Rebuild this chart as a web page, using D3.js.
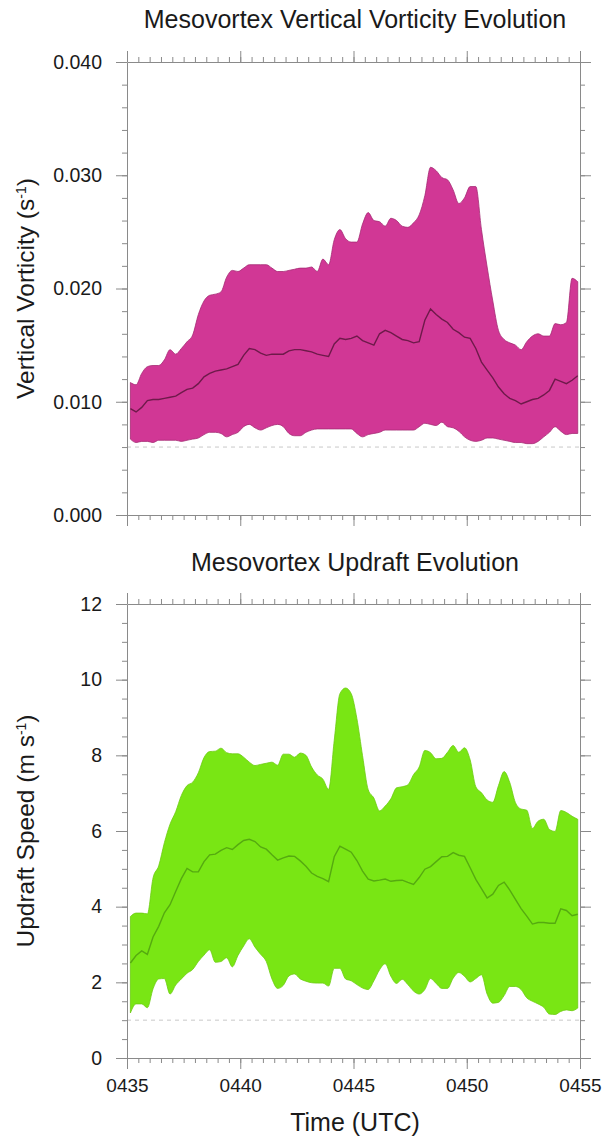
<!DOCTYPE html>
<html>
<head>
<meta charset="utf-8">
<script src="https://cdn.jsdelivr.net/npm/d3@7"></script>
<style>
  body { margin: 0; background: #fff; }
  text { font-family: "Liberation Sans", Arial, Helvetica, sans-serif; fill: #1a1a1a; }
</style>
</head>
<body>
<svg width="603" height="1139"></svg>
<script>
// sample times, minutes after 0435 UTC (15 s output)
var minutes = d3.range(80).map(function(i) { return 0.15 + 0.25 * i })
var xTicks = [0, 5, 10, 15, 20]
var xTickLabels = ["0435", "0440", "0445", "0450", "0455"]

// vertical vorticity (s-1): max, mean, min of the mesovortex
var vortMax = [0.0117, 0.0115, 0.0125, 0.0131, 0.0132, 0.0132, 0.0137, 0.0146, 0.0142, 0.0147,
  0.0153, 0.0159, 0.0177, 0.0189, 0.0194, 0.0195, 0.0197, 0.0210, 0.0216, 0.0215,
  0.0218, 0.0221, 0.0221, 0.0221, 0.0221, 0.0218, 0.0215, 0.0215, 0.0216, 0.0217,
  0.0218, 0.0218, 0.0219, 0.0215, 0.0226, 0.0221, 0.0243, 0.0252, 0.0244, 0.0241,
  0.0241, 0.0257, 0.0267, 0.0260, 0.0259, 0.0255, 0.0262, 0.0260, 0.0255, 0.0254,
  0.0258, 0.0265, 0.0282, 0.0307, 0.0304, 0.0298, 0.0296, 0.0287, 0.0275, 0.0280,
  0.0290, 0.0290, 0.0252, 0.0219, 0.0189, 0.0163, 0.0155, 0.0152, 0.0150, 0.0146,
  0.0153, 0.0158, 0.0160, 0.0158, 0.0158, 0.0169, 0.0168, 0.0170, 0.0209, 0.0206]
var vortMean = [0.0094, 0.0091, 0.0095, 0.0101, 0.0102, 0.0102, 0.0103, 0.0104, 0.0105, 0.0108,
  0.0111, 0.0112, 0.0116, 0.0122, 0.0125, 0.0127, 0.0128, 0.0129, 0.0131, 0.0133,
  0.0141, 0.0147, 0.0146, 0.0143, 0.0141, 0.0142, 0.0142, 0.0142, 0.0145, 0.0146,
  0.0146, 0.0145, 0.0144, 0.0142, 0.0141, 0.0140, 0.0151, 0.0156, 0.0155, 0.0156,
  0.0158, 0.0154, 0.0152, 0.0150, 0.0160, 0.0163, 0.0161, 0.0158, 0.0155, 0.0154,
  0.0152, 0.0153, 0.0172, 0.0182, 0.0177, 0.0173, 0.0170, 0.0164, 0.0161, 0.0157,
  0.0156, 0.0147, 0.0135, 0.0128, 0.0121, 0.0113, 0.0107, 0.0103, 0.0101, 0.0098,
  0.0100, 0.0102, 0.0103, 0.0106, 0.0110, 0.0120, 0.0118, 0.0116, 0.0119, 0.0123]
var vortMin = [0.0067, 0.0064, 0.0065, 0.0065, 0.0064, 0.0066, 0.0066, 0.0066, 0.0066, 0.0065,
  0.0066, 0.0067, 0.0068, 0.0071, 0.0073, 0.0073, 0.0072, 0.0069, 0.0071, 0.0073,
  0.0078, 0.0080, 0.0077, 0.0075, 0.0077, 0.0079, 0.0080, 0.0078, 0.0072, 0.0070,
  0.0070, 0.0073, 0.0075, 0.0076, 0.0076, 0.0076, 0.0076, 0.0076, 0.0076, 0.0076,
  0.0072, 0.0069, 0.0071, 0.0072, 0.0073, 0.0075, 0.0075, 0.0075, 0.0075, 0.0075,
  0.0075, 0.0078, 0.0081, 0.0080, 0.0079, 0.0082, 0.0078, 0.0077, 0.0074, 0.0069,
  0.0066, 0.0065, 0.0066, 0.0068, 0.0068, 0.0067, 0.0066, 0.0065, 0.0064, 0.0064,
  0.0063, 0.0063, 0.0065, 0.0069, 0.0073, 0.0078, 0.0074, 0.0071, 0.0072, 0.0072]
var vortRef = 0.006
var vortTicks = [0, 0.01, 0.02, 0.03, 0.04]

// updraft speed (m s-1): max, mean, min
var wMax = [3.74, 3.83, 3.83, 3.81, 4.76, 5.08, 5.69, 6.18, 6.51, 6.94,
  7.20, 7.29, 7.54, 7.94, 8.10, 8.11, 8.19, 8.07, 8.04, 8.04,
  7.95, 7.82, 7.73, 7.76, 7.79, 7.82, 7.74, 8.03, 8.03, 7.95,
  8.06, 8.00, 7.69, 7.48, 7.37, 7.10, 8.40, 9.63, 9.78, 9.63,
  8.97, 7.99, 7.09, 6.87, 6.53, 6.66, 6.85, 7.14, 7.17, 7.22,
  7.49, 7.69, 8.13, 8.07, 7.91, 7.92, 8.08, 8.26, 8.08, 8.20,
  7.88, 7.17, 7.01, 6.82, 6.76, 7.20, 7.57, 7.28, 6.75, 6.58,
  6.55, 6.07, 6.26, 6.31, 6.04, 5.99, 6.54, 6.49, 6.39, 6.31]
var wMean = [2.51, 2.71, 2.83, 2.74, 3.20, 3.48, 3.84, 4.05, 4.40, 4.74,
  5.01, 4.92, 4.92, 5.19, 5.37, 5.39, 5.49, 5.56, 5.51, 5.64,
  5.75, 5.78, 5.72, 5.58, 5.52, 5.37, 5.23, 5.29, 5.34, 5.33,
  5.21, 5.07, 4.89, 4.80, 4.74, 4.66, 5.32, 5.60, 5.52, 5.44,
  5.22, 4.94, 4.73, 4.68, 4.70, 4.73, 4.67, 4.69, 4.70, 4.64,
  4.59, 4.77, 4.99, 5.06, 5.19, 5.32, 5.33, 5.43, 5.36, 5.33,
  5.03, 4.72, 4.48, 4.23, 4.33, 4.56, 4.65, 4.44, 4.19, 3.95,
  3.75, 3.54, 3.58, 3.58, 3.56, 3.56, 3.94, 3.90, 3.76, 3.80]
var wMin = [1.19, 1.43, 1.43, 1.33, 1.83, 2.09, 2.10, 1.69, 1.93, 2.09,
  2.24, 2.34, 2.55, 2.72, 2.86, 2.53, 2.55, 2.65, 2.41, 2.71,
  2.96, 3.15, 2.93, 2.74, 2.55, 2.09, 1.84, 1.92, 2.17, 2.22,
  2.09, 2.03, 1.99, 1.98, 1.98, 1.90, 2.37, 2.37, 2.09, 2.04,
  1.94, 1.85, 1.81, 2.04, 2.33, 2.49, 2.16, 1.97, 2.08, 1.94,
  1.77, 1.69, 1.81, 2.10, 1.97, 1.84, 1.84, 2.11, 2.26, 2.16,
  2.01, 2.10, 2.20, 1.69, 1.45, 1.47, 1.65, 1.89, 1.89, 1.81,
  1.59, 1.50, 1.43, 1.34, 1.16, 1.15, 1.23, 1.27, 1.25, 1.32]
var wRef = 1.0
var wTicks = [0, 2, 4, 6, 8, 10, 12]

var svg = d3.select('svg')
var x = d3.scaleLinear().domain([0, 20]).range([127, 580])

function panel(o) {
  var y = d3.scaleLinear().domain(o.domain).range(o.range)
  var g = svg.append('g')
  var rows = minutes.map(function(t, i) { return {t: t, hi: o.hi[i], mid: o.mid[i], lo: o.lo[i]} })

  // shaded range
  g.append('path')
    .datum(rows)
    .attr('d', d3.area().x(d => x(d.t)).y0(d => y(d.lo)).y1(d => y(d.hi)).curve(d3.curveMonotoneX))
    .attr('fill', o.fill)
    .attr('stroke', o.edge)
    .attr('stroke-width', 0.8)

  // mean
  g.append('path')
    .datum(rows)
    .attr('d', d3.line().x(d => x(d.t)).y(d => y(d.mid)))
    .attr('fill', 'none')
    .attr('stroke', o.line)
    .attr('stroke-width', 1.4)

  // reference line
  g.append('line')
    .attr('x1', x(0)).attr('x2', x(20))
    .attr('y1', y(o.ref)).attr('y2', y(o.ref))
    .attr('stroke', '#c8c8c8')
    .attr('stroke-dasharray', '4,4')
    .attr('stroke-width', 1)

  var y0 = o.range[0], y1 = o.range[1]
  var axes = [
    [d3.axisBottom(x).tickValues(xTicks), 'translate(0,' + y0 + ')', d3.axisBottom(x).tickValues(d3.range(0, 20.01, 0.5))],
    [d3.axisTop(x).tickValues(xTicks), 'translate(0,' + y1 + ')', d3.axisTop(x).tickValues(d3.range(0, 20.01, 0.5))],
    [d3.axisLeft(y).tickValues(o.ticks), 'translate(127,0)', d3.axisLeft(y).tickValues(o.minor)],
    [d3.axisRight(y).tickValues(o.ticks), 'translate(580,0)', d3.axisRight(y).tickValues(o.minor)]
  ]
  axes.forEach(function(a, k) {
    var minor = g.append('g').attr('transform', a[1])
      .call(a[2].tickSize(5).tickSizeOuter(0).tickFormat(''))
    minor.select('.domain').remove()
    var major = g.append('g').attr('transform', a[1])
      .call(a[0].tickSize(11).tickSizeOuter(0).tickPadding(k == 0 ? 10 : 14))
    if (k == 0 && o.xLabels) {
      major.selectAll('text').text((d, i) => xTickLabels[i])
    } else if (k == 2) {
      major.selectAll('text').text(o.fmt)
    } else {
      major.selectAll('text').remove()
    }
    g.selectAll('.tick line').attr('stroke', '#8a8a8a')
    major.select('.domain').attr('stroke', '#8a8a8a')
    major.selectAll('text').style('font-size', k == 0 ? '19px' : '19.5px').attr('fill', '#1a1a1a')
  })

  svg.append('text')
    .attr('x', 355)
    .attr('y', o.titleY)
    .attr('text-anchor', 'middle')
    .style('font-size', '25px')
    .text(o.title)

  var yl = svg.append('text')
    .attr('transform', 'translate(34,' + (y0 + y1) / 2 + ') rotate(-90)')
    .attr('text-anchor', 'middle')
    .style('font-size', '24.5px')
  yl.append('tspan').text(o.ylab)
  yl.append('tspan').attr('baseline-shift', 'super').style('font-size', '14px').text('-1')
  yl.append('tspan').text(')')
}

panel({
  domain: [0, 0.04], range: [515, 62],
  hi: vortMax, mid: vortMean, lo: vortMin, ref: vortRef,
  ticks: vortTicks, minor: d3.range(0, 0.04001, 0.002),
  fmt: d3.format('.3f'),
  fill: '#d13795', edge: '#a52a74', line: '#6e1a4a',
  title: 'Mesovortex Vertical Vorticity Evolution', titleY: 28,
  ylab: 'Vertical Vorticity (s', xLabels: false
})

panel({
  domain: [0, 12], range: [1058, 604],
  hi: wMax, mid: wMean, lo: wMin, ref: wRef,
  ticks: wTicks, minor: d3.range(0, 12.01, 0.5),
  fmt: d3.format('d'),
  fill: '#79e614', edge: '#6ccc12', line: '#55aa10',
  title: 'Mesovortex Updraft Evolution', titleY: 571,
  ylab: 'Updraft Speed (m s', xLabels: true
})

svg.append('text')
  .attr('x', 355)
  .attr('y', 1131)
  .attr('text-anchor', 'middle')
  .style('font-size', '25px')
  .text('Time (UTC)')
</script>
</body>
</html>
